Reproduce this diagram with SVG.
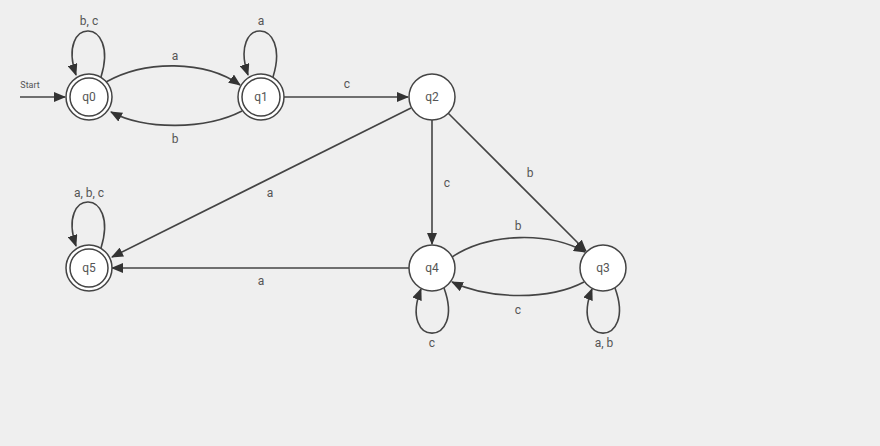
<svg xmlns="http://www.w3.org/2000/svg" width="880" height="446" viewBox="0 0 880 446">
<style>
.bg{fill:#efefef}
.n{fill:#ffffff;stroke:#444;stroke-width:1.5}
.e{fill:none;stroke:#444;stroke-width:1.6;marker-end:url(#ah)}
text{font-family:Roboto,"Liberation Sans",sans-serif;font-size:12px;fill:#555;text-anchor:middle}
.s{font-size:9px}
</style>
<defs>
<marker id="ah" viewBox="0 0 12 10" refX="11" refY="5" markerWidth="12" markerHeight="10" markerUnits="userSpaceOnUse" orient="auto"><path d="M0,0 L12,5 L0,10 z" fill="#333"/></marker>
</defs>
<rect class="bg" width="880" height="446"/>
<g id="edges">
<line class="e" x1="20" y1="97" x2="65" y2="97"/>
<text class="s" x="30" y="88">Start</text>
<path class="e" d="M101,77 C120,16 56,16 76,75"/>
<text x="89" y="25">b, c</text>
<path class="e" d="M273,77 C292,16 228,16 248,75"/>
<text x="261" y="25">a</text>
<path class="e" d="M106,82 C145,60 205,60 240,85"/>
<text x="175" y="60">a</text>
<path class="e" d="M242,111 C205,130 145,130 111,112"/>
<text x="175" y="143">b</text>
<line class="e" x1="284" y1="97" x2="408" y2="97"/>
<text x="347" y="88">c</text>
<line class="e" x1="411" y1="108" x2="112" y2="257"/>
<text x="270" y="197">a</text>
<line class="e" x1="432" y1="120" x2="432" y2="244"/>
<text x="447" y="187">c</text>
<line class="e" x1="448" y1="113" x2="586" y2="251"/>
<text x="530" y="177">b</text>
<path class="e" d="M452,257 C490,232 550,232 585,252"/>
<text x="518" y="230">b</text>
<path class="e" d="M584,282 C550,300 490,300 452,282"/>
<text x="518" y="314">c</text>
<line class="e" x1="409" y1="268" x2="112" y2="268"/>
<text x="261" y="285">a</text>
<path class="e" d="M444,288 C466,348 398,348 421,289"/>
<text x="432" y="347">c</text>
<path class="e" d="M615,288 C637,348 569,348 592,289"/>
<text x="604" y="347">a, b</text>
<path class="e" d="M101,248 C120,187 56,187 76,246"/>
<text x="89" y="197">a, b, c</text>
</g>
<g id="q0"><circle class="n" cx="89" cy="97" r="23"/><circle class="n" cx="89" cy="97" r="19"/><text x="89" y="101">q0</text></g>
<g id="q1"><circle class="n" cx="261" cy="97" r="23"/><circle class="n" cx="261" cy="97" r="19"/><text x="261" y="101">q1</text></g>
<g id="q2"><circle class="n" cx="432" cy="97" r="23"/><text x="432" y="101">q2</text></g>
<g id="q5"><circle class="n" cx="89" cy="268" r="23"/><circle class="n" cx="89" cy="268" r="19"/><text x="89" y="272">q5</text></g>
<g id="q4"><circle class="n" cx="432" cy="268" r="23"/><text x="432" y="272">q4</text></g>
<g id="q3"><circle class="n" cx="603" cy="268" r="23"/><text x="603" y="272">q3</text></g>
</svg>
